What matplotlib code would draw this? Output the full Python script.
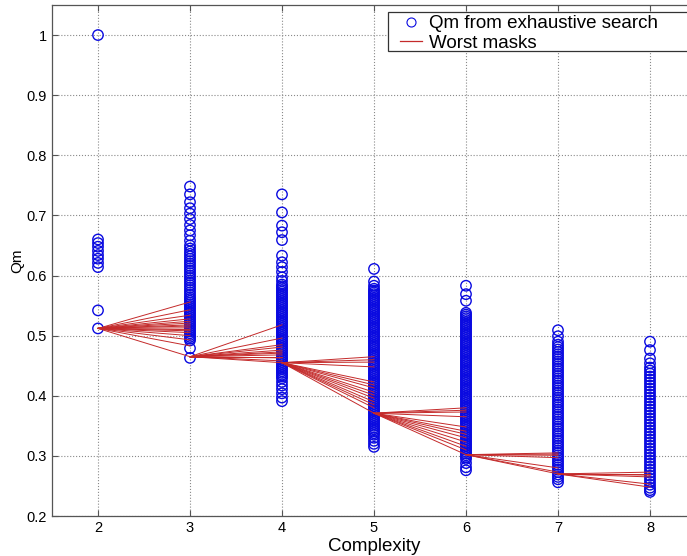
import matplotlib
matplotlib.use("Agg")
import matplotlib.pyplot as plt
from matplotlib.lines import Line2D
from matplotlib.patches import Rectangle

plt.rcParams["font.family"] = ["Liberation Sans", "DejaVu Sans"]

# Qm from exhaustive search, one list per complexity
complexity = [2, 3, 4, 5, 6, 7, 8]
qm_2 = [1.0, 0.660, 0.654, 0.648, 0.641, 0.634, 0.628, 0.621, 0.614, 0.542, 0.512]
qm_3 = [0.748, 0.735, 0.722, 0.712, 0.703, 0.694, 0.684, 0.675, 0.667, 0.658, 0.650, 0.645,
        0.640, 0.636, 0.632, 0.628, 0.624, 0.620, 0.616, 0.612, 0.608, 0.604, 0.600, 0.596,
        0.592, 0.588, 0.584, 0.580, 0.576, 0.572, 0.568, 0.564, 0.561, 0.558, 0.555, 0.552,
        0.549, 0.546, 0.543, 0.540, 0.537, 0.534, 0.531, 0.528, 0.525, 0.522, 0.519, 0.516,
        0.513, 0.510, 0.507, 0.504, 0.501, 0.498, 0.495, 0.492, 0.479, 0.463]
qm_4 = [0.735, 0.705, 0.683, 0.672, 0.659, 0.633, 0.622, 0.614, 0.606, 0.597, 0.591,
        0.585, 0.582, 0.579, 0.576, 0.573, 0.570, 0.567, 0.564, 0.561, 0.558, 0.555, 0.552,
        0.549, 0.546, 0.543, 0.540, 0.537, 0.534, 0.531, 0.528, 0.525, 0.522, 0.519, 0.516,
        0.513, 0.510, 0.507, 0.504, 0.501, 0.498, 0.495, 0.492, 0.489, 0.486, 0.483, 0.480,
        0.477, 0.474, 0.471, 0.468, 0.465, 0.462, 0.459, 0.456, 0.453, 0.450, 0.447, 0.444,
        0.441, 0.438, 0.435, 0.432, 0.429, 0.423, 0.417, 0.411, 0.404, 0.397, 0.391]
qm_5 = [0.611, 0.590, 0.583,
        0.578, 0.575, 0.572, 0.569, 0.566, 0.563, 0.560, 0.557, 0.554, 0.551, 0.548, 0.545,
        0.542, 0.539, 0.536, 0.533, 0.530, 0.527, 0.524, 0.521, 0.518, 0.515, 0.512, 0.509,
        0.506, 0.503, 0.500, 0.497, 0.494, 0.491, 0.488, 0.485, 0.482, 0.479, 0.476, 0.473,
        0.470, 0.467, 0.464, 0.461, 0.458, 0.455, 0.452, 0.449, 0.446, 0.443, 0.440, 0.437,
        0.434, 0.431, 0.428, 0.425, 0.422, 0.419, 0.416, 0.413, 0.410, 0.407, 0.404, 0.401,
        0.398, 0.395, 0.392, 0.389, 0.386, 0.383, 0.380, 0.377, 0.374, 0.371, 0.368, 0.365,
        0.362, 0.359, 0.356, 0.353, 0.350, 0.347, 0.344, 0.341, 0.338,
        0.335, 0.330, 0.325, 0.320, 0.315]
qm_6 = [0.583, 0.569, 0.558, 0.538,
        0.535, 0.532, 0.529, 0.526, 0.523, 0.520, 0.517, 0.514, 0.511, 0.508, 0.505, 0.502,
        0.499, 0.496, 0.493, 0.490, 0.487, 0.484, 0.481, 0.478, 0.475, 0.472, 0.469, 0.466,
        0.463, 0.460, 0.457, 0.454, 0.451, 0.448, 0.445, 0.442, 0.439, 0.436, 0.433, 0.430,
        0.427, 0.424, 0.421, 0.418, 0.415, 0.412, 0.409, 0.406, 0.403, 0.400, 0.397, 0.394,
        0.391, 0.388, 0.385, 0.382, 0.379, 0.376, 0.373, 0.370, 0.367, 0.364, 0.361, 0.358,
        0.355, 0.352, 0.349, 0.346, 0.343, 0.340, 0.337, 0.334, 0.331, 0.328, 0.325, 0.322,
        0.319, 0.316, 0.313, 0.310, 0.307, 0.304, 0.301, 0.298, 0.295,
        0.288, 0.281, 0.276]
qm_7 = [0.509, 0.499, 0.490,
        0.485, 0.481, 0.477, 0.473, 0.469, 0.465, 0.461, 0.457, 0.453, 0.449, 0.445, 0.441,
        0.437, 0.433, 0.429, 0.425, 0.421, 0.417, 0.413, 0.409, 0.405, 0.401, 0.397, 0.393,
        0.389, 0.385, 0.381, 0.377, 0.373, 0.369, 0.365, 0.361, 0.357, 0.353, 0.349, 0.345,
        0.341, 0.337, 0.333, 0.329, 0.325, 0.321, 0.317, 0.313, 0.309, 0.305, 0.301, 0.297,
        0.293, 0.289, 0.285, 0.281, 0.277, 0.273, 0.269, 0.265, 0.261, 0.256]
qm_8 = [0.490, 0.476, 0.462, 0.454,
        0.447, 0.442, 0.437, 0.432, 0.427, 0.422, 0.417, 0.412, 0.407, 0.402, 0.397, 0.392,
        0.387, 0.382, 0.377, 0.372, 0.367, 0.362, 0.357, 0.352, 0.347, 0.342, 0.337, 0.332,
        0.327, 0.322, 0.317, 0.312, 0.307, 0.302, 0.297, 0.292, 0.287, 0.282, 0.277, 0.272,
        0.267, 0.262, 0.257, 0.252, 0.247, 0.243, 0.240]
qm_all = [qm_2, qm_3, qm_4, qm_5, qm_6, qm_7, qm_8]

# worst masks: the worst Qm at complexity k, fanned out to its extensions at k+1
worst_from = [0.512, 0.465, 0.455, 0.371, 0.302, 0.270]
worst_to_3 = [0.556, 0.543, 0.534, 0.528, 0.524, 0.521, 0.518, 0.516, 0.513, 0.510, 0.508,
              0.505, 0.500, 0.493, 0.483, 0.465]
worst_to_4 = [0.518, 0.496, 0.485, 0.481, 0.476, 0.473, 0.471, 0.468, 0.465, 0.463, 0.458, 0.455]
worst_to_5 = [0.465, 0.460, 0.456, 0.448, 0.423, 0.418, 0.413, 0.406, 0.401, 0.396, 0.390,
              0.385, 0.380, 0.371]
worst_to_6 = [0.380, 0.376, 0.373, 0.365, 0.348, 0.341, 0.336, 0.330, 0.323, 0.316, 0.310, 0.302]
worst_to_7 = [0.305, 0.303, 0.301, 0.297, 0.280, 0.273, 0.270]
worst_to_8 = [0.273, 0.270, 0.268, 0.265, 0.253, 0.248]
worst_to = [worst_to_3, worst_to_4, worst_to_5, worst_to_6, worst_to_7, worst_to_8]

BLUE = "#0a0ae0"
RED = "#c42a2a"

fig = plt.figure(figsize=(6.87, 5.56), dpi=100)
ax = fig.add_axes([52 / 687, 40 / 556, 644 / 687, 511 / 556])

for k, vals in zip(complexity, qm_all):
    ax.scatter([k] * len(vals), vals, s=56, facecolors="none", edgecolors=BLUE,
               linewidths=1.0, zorder=2)

for k, y0, ends in zip(complexity[:-1], worst_from, worst_to):
    for y1 in ends:
        ax.plot([k, k + 1], [y0, y1], color=RED, lw=0.7, zorder=3)

ax.set_xlim(1.5, 8.5)
ax.set_ylim(0.2, 1.05)
ax.set_xticks(complexity)
ax.set_yticks([0.2, 0.3, 0.4, 0.5, 0.6, 0.7, 0.8, 0.9, 1.0])
ax.set_yticklabels(["0.2", "0.3", "0.4", "0.5", "0.6", "0.7", "0.8", "0.9", "1"])
ax.grid(True, linestyle=":", color="#8a8a8a", lw=0.8)
ax.set_axisbelow(True)
ax.tick_params(direction="in", length=4, top=True, right=True, labelsize=10.5,
               color="#555555", width=0.8)
for sp in ax.spines.values():
    sp.set_color("#555555")
    sp.set_linewidth(0.9)

ax.set_xlabel("Complexity", fontsize=13.5, labelpad=2)
ax.set_ylabel("Qm", fontsize=11, labelpad=2)

# legend: MATLAB-style box that runs off the right edge
ax.add_patch(Rectangle((388 / 687, 1 - 51 / 556), 320 / 687, 39 / 556,
                       transform=fig.transFigure, facecolor="white", clip_on=False,
                       edgecolor="#333333", lw=0.9, zorder=5))
handles = [
    Line2D([], [], ls="none", marker="o", ms=6.5, mfc="none", mec=BLUE, mew=0.8),
    Line2D([], [], color=RED, lw=0.9),
]
leg = ax.legend(handles, ["Qm from exhaustive search", "Worst masks"], loc="upper left",
                bbox_to_anchor=(399 / 687, 1 - 14 / 556), bbox_transform=fig.transFigure,
                borderaxespad=0, borderpad=0.05, fontsize=13.5, frameon=False,
                handlelength=1.15, handletextpad=0.4, labelspacing=0.15)
leg.set_zorder(6)

fig.savefig("out.png", dpi=100)
